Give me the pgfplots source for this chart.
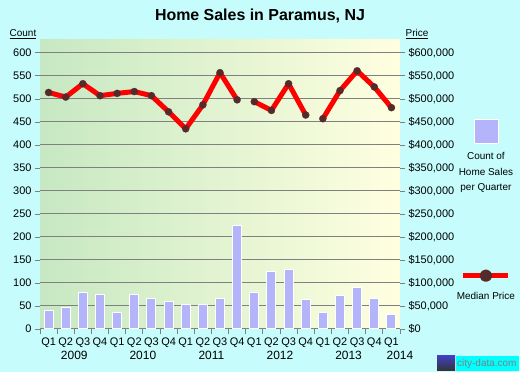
\documentclass[border=0pt]{standalone}
\usepackage{pgfplots}
\pgfplotsset{compat=1.18}
\usepackage{fontspec}
\setmainfont{Liberation Sans}
\definecolor{bgcyan}{RGB}{198,252,252}
\definecolor{plotgreen}{RGB}{198,232,194}
\definecolor{plotyellow}{RGB}{255,255,224}
\definecolor{barcol}{RGB}{180,180,250}
\definecolor{markcol}{RGB}{85,42,42}
\definecolor{gridgray}{RGB}{128,128,128}
\definecolor{logocyan}{RGB}{0,255,255}

\pgfplotstableread{
x count
0 41
1 46
2 80
3 74
4 35
5 74
6 67
7 59
8 54
9 54
10 67
11 224
12 80
13 126
14 130
15 65
16 36
17 73
18 91
19 67
20 32
}\countdata

\begin{document}
\begin{tikzpicture}
\fill[bgcyan] (0bp,0bp) rectangle (520bp,372bp);
\useasboundingbox (0bp,0bp) rectangle (520bp,372bp);

\begin{axis}[
  at={(40bp,43bp)}, anchor=south west,
  scale only axis, width=360bp, height=289bp,
  xmin=-0.5, xmax=20.5, ymin=0, ymax=628,
  axis background/.style={left color=plotgreen, right color=plotyellow},
  axis x line*=bottom, axis y line*=left,
  axis line style={draw=none},
  ytick={0,50,...,600},
  ymajorgrids, grid style={gridgray, line width=1bp},
  xtick={-0.5,0.5,...,20.5},
  x tick label as interval,
  xticklabels={Q1,Q2,Q3,Q4,Q1,Q2,Q3,Q4,Q1,Q2,Q3,Q4,Q1,Q2,Q3,Q4,Q1,Q2,Q3,Q4,Q1},
  tick align=outside, major tick length=5bp,
  tick style={gridgray, line width=0.8bp},
  tick label style={font=\fontsize{11}{13}\selectfont, text=black},
  /pgf/number format/assume math mode=true,
  legend style={at={(1.240,0.727)}, anchor=north, draw=none, fill=none, inner sep=0pt, nodes={inner sep=0pt}},
  legend image code/.code={
    \fill[barcol, draw=white, line width=0.8bp] (-12bp,-24bp) rectangle (12bp,0bp);
    \node[anchor=base, text=black, font=\fontsize{10}{12}\selectfont] at (0bp,-39.5bp) {Count of};
    \node[anchor=base, text=black, font=\fontsize{10}{12}\selectfont] at (0bp,-55.5bp) {Home Sales};
    \node[anchor=base, text=black, font=\fontsize{10}{12}\selectfont] at (0bp,-70.5bp) {per Quarter};
  },
]
\addplot[ybar, bar width=0.52, fill=barcol, draw=white, line width=1bp] table[x=x, y=count] {\countdata};
\addlegendentry{}
\end{axis}

\begin{axis}[
  at={(40bp,43bp)}, anchor=south west,
  scale only axis, width=360bp, height=289bp,
  xmin=-0.5, xmax=20.5, ymin=0, ymax=628000,
  axis x line*=bottom, axis y line*=right,
  axis line style={draw=none},
  ytick={0,50000,...,600000},
  yticklabels={{\$0},{\$50,000},{\$100,000},{\$150,000},{\$200,000},{\$250,000},{\$300,000},{\$350,000},{\$400,000},{\$450,000},{\$500,000},{\$550,000},{\$600,000}},
  scaled y ticks=false,
  xtick={1.5,5.5,9.5,13.5,17.5,20.5},
  xticklabels={2009,2010,2011,2012,2013,2014},
  xtick style={draw=none},
  xticklabel style={yshift=-14bp, font=\fontsize{12}{14}\selectfont},
  tick align=outside, major tick length=5bp,
  tick style={gridgray, line width=0.8bp},
  yticklabel style={font=\fontsize{11}{13}\selectfont, text=black},
  every axis plot/.append style={line width=5bp, line join=round},
  mylinestyle/.style={draw=red, line width=5bp, line join=round, mark=*, mark size=3.6bp, mark options={draw=markcol, fill=markcol, line width=0.2bp}},
  legend style={at={(1.240,0.2066)}, anchor=north, draw=none, fill=none, inner sep=0pt, nodes={inner sep=0pt, text=black}},
  legend image code/.code={
    \draw[red, line width=5bp] (-22.5bp,-3.7bp) -- (22.5bp,-3.7bp);
    \fill[markcol] (0bp,-3.7bp) circle (3.7bp);
    \node[anchor=base, text=black, font=\fontsize{10}{12}\selectfont] at (0bp,-27.7bp) {Median Price};
  },
]
\addplot[mylinestyle] coordinates {
(0,514000) (1,504000) (2,533000) (3,507000) (4,512000) (5,516000) (6,507000) (7,472000) (8,435000) (9,487000) (10,557000) (11,498000)};
\addlegendentry{}
\addplot[mylinestyle, forget plot] coordinates {
(12,494000) (13,475000) (14,533000) (15,465000)};
\addplot[mylinestyle, forget plot] coordinates {
(16,457000) (17,518000) (18,561000) (19,526000) (20,481000)};
\end{axis}

\node[font=\bfseries\fontsize{16}{18}\selectfont] at (260bp,356bp) {Home Sales in Paramus, NJ};
\node[font=\fontsize{10}{12}\selectfont, anchor=base] at (23bp,335bp) {\underline{Count}};
\node[font=\fontsize{10}{12}\selectfont, anchor=base] at (417bp,335bp) {\underline{Price}};
\fill[logocyan] (456bp,1bp) rectangle (519bp,16bp);
\shade[top color=blue!50!gray, bottom color=black!80] (437bp,1bp) rectangle (455bp,16bp);
\node[font=\fontsize{10}{12}\selectfont, text=gray, anchor=west, inner sep=0pt] at (457bp,8.5bp) {city-data.com};
\end{tikzpicture}
\end{document}
